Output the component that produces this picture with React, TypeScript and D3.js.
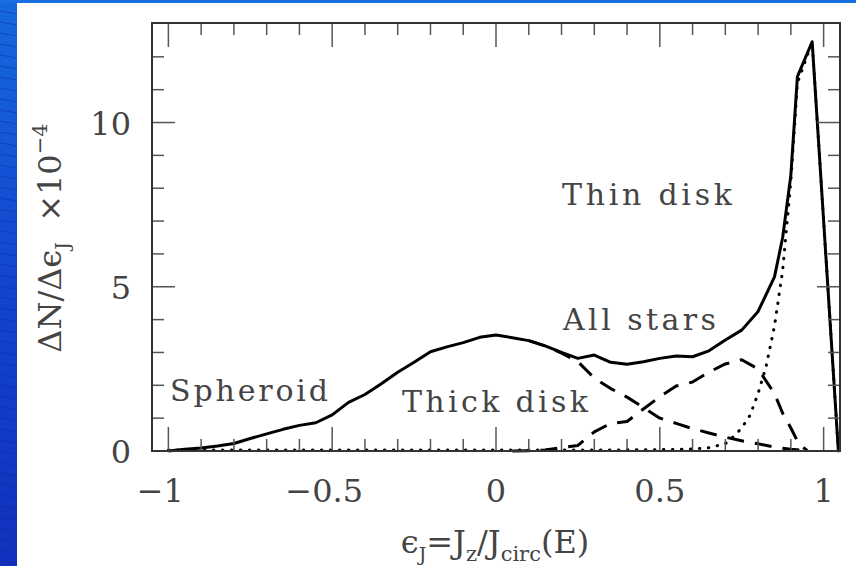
import React from "react";
import * as d3 from "d3";

// ---- data ----
const allX = [-1.0, -0.95, -0.9, -0.85, -0.8, -0.75, -0.7, -0.65, -0.6, -0.55, -0.5, -0.45, -0.4, -0.35, -0.3, -0.25, -0.2, -0.15, -0.1, -0.05, 0, 0.05, 0.1, 0.15, 0.2, 0.25, 0.3, 0.35, 0.4, 0.45, 0.5, 0.55, 0.6, 0.65, 0.7, 0.75, 0.8, 0.85, 0.875, 0.9, 0.92, 0.965, 1.045];
const allY = [0.0, 0.05, 0.09, 0.15, 0.23, 0.38, 0.52, 0.66, 0.78, 0.86, 1.1, 1.48, 1.72, 2.05, 2.4, 2.7, 3.02, 3.17, 3.3, 3.46, 3.53, 3.45, 3.36, 3.2, 3.0, 2.82, 2.92, 2.7, 2.64, 2.72, 2.82, 2.89, 2.87, 3.05, 3.38, 3.68, 4.25, 5.3, 6.5, 8.4, 11.4, 12.46, 0];

const thinX = [-1.0, -0.5, 0, 0.3, 0.5, 0.6, 0.65, 0.7, 0.725, 0.75, 0.775, 0.8, 0.825, 0.85, 0.875, 0.9, 0.92, 0.965, 1.045];
const thinY = [0.03, 0.03, 0.03, 0.03, 0.04, 0.06, 0.1, 0.22, 0.44, 0.7, 1.08, 1.75, 2.6, 3.8, 5.5, 8.2, 11.2, 12.46, 0];

const thickX = [0.1, 0.15, 0.2, 0.25, 0.3, 0.35, 0.4, 0.45, 0.5, 0.55, 0.6, 0.65, 0.7, 0.75, 0.8, 0.85, 0.9, 0.95];
const thickY = [3.36, 3.2, 2.98, 2.72, 2.22, 1.9, 1.64, 1.32, 1.0, 0.84, 0.68, 0.55, 0.42, 0.31, 0.22, 0.12, 0.05, 0.01];

const riseX = [0.05, 0.1, 0.15, 0.2, 0.25, 0.3, 0.35, 0.4, 0.45, 0.5, 0.55, 0.6, 0.65, 0.7, 0.75, 0.8, 0.85, 0.875, 0.9, 0.925, 0.95];
const riseY = [0, 0.01, 0.03, 0.1, 0.17, 0.58, 0.84, 0.9, 1.28, 1.65, 1.98, 2.1, 2.4, 2.65, 2.78, 2.5, 1.75, 1.15, 0.7, 0.2, 0.02];

const xMajorTicks = [-1, -0.5, 0, 0.5, 1];
const xTickLabels = ["\u22121", "\u22120.5", "0", "0.5", "1"];
const yMajorTicks = [0, 5, 10];
const yTickLabels = ["0", "5", "10"];

const W = 856;
const H = 566;
const L = 152, R = 840, T = 23, B = 451;
const FONT = "'DejaVu Serif', serif";
const TEXT = "#444";

export default function App() {
  const x = d3.scaleLinear().domain([-1.05, 1.05]).range([L, R]);
  const y = d3.scaleLinear().domain([0, 13.03]).range([B, T]);
  const line = d3
    .line<[number, number]>()
    .x((d) => x(d[0]))
    .y((d) => y(d[1]));
  const zip = (xs: number[], ys: number[]) => xs.map((v, i) => [v, ys[i]] as [number, number]);

  const xMinor = d3.range(-10, 11).map((i) => i / 10).filter((v) => Math.abs(v * 2 - Math.round(v * 2)) > 1e-6);
  const yMinor = d3.range(1, 13).filter((v) => v % 5 !== 0);

  const tickColor = "#555";
  const ticks: React.ReactNode[] = [];
  xMajorTicks.forEach((v, i) => {
    ticks.push(<line key={"xb" + i} x1={x(v)} x2={x(v)} y1={B} y2={B - 24} stroke={tickColor} strokeWidth={1.5} />);
    ticks.push(<line key={"xt" + i} x1={x(v)} x2={x(v)} y1={T} y2={T + 24} stroke={tickColor} strokeWidth={1.5} />);
  });
  xMinor.forEach((v, i) => {
    ticks.push(<line key={"xbm" + i} x1={x(v)} x2={x(v)} y1={B} y2={B - 12} stroke={tickColor} strokeWidth={1.5} />);
    ticks.push(<line key={"xtm" + i} x1={x(v)} x2={x(v)} y1={T} y2={T + 12} stroke={tickColor} strokeWidth={1.5} />);
  });
  yMajorTicks.forEach((v, i) => {
    ticks.push(<line key={"yl" + i} x1={L} x2={L + 23} y1={y(v)} y2={y(v)} stroke={tickColor} strokeWidth={1.5} />);
    ticks.push(<line key={"yr" + i} x1={R} x2={R - 23} y1={y(v)} y2={y(v)} stroke={tickColor} strokeWidth={1.5} />);
  });
  yMinor.forEach((v, i) => {
    ticks.push(<line key={"ylm" + i} x1={L} x2={L + 12} y1={y(v)} y2={y(v)} stroke={tickColor} strokeWidth={1.5} />);
    ticks.push(<line key={"yrm" + i} x1={R} x2={R - 12} y1={y(v)} y2={y(v)} stroke={tickColor} strokeWidth={1.5} />);
  });

  // background stripes on the blue strips
  const stripes = d3.range(-2, 60).map((i) => i * 11);

  return (
    <div style={{ position: "absolute", left: 0, top: 0 }}>
      <svg width={W} height={H} style={{ display: "block" }}>
        <defs>
          <linearGradient id="blueGrad" x1="0" y1="0" x2="0" y2="1">
            <stop offset="0" stopColor="#1668de" />
            <stop offset="0.5" stopColor="#1245cf" />
            <stop offset="1" stopColor="#1130bd" />
          </linearGradient>
          <clipPath id="leftStrip">
            <rect x={0} y={0} width={17} height={H} />
          </clipPath>
        </defs>
        <rect x={0} y={0} width={W} height={H} fill="url(#blueGrad)" />
        <g clipPath="url(#leftStrip)">
          {stripes.map((s, i) => (
            <line key={i} x1={0} y1={s} x2={17} y2={s + 3} stroke="#0b2a96" strokeOpacity={0.55} strokeWidth={0.8} />
          ))}
        </g>
        <rect x={0} y={0} width={W} height={3} fill="#1a6ee2" />
        <rect x={17} y={3} width={W - 17} height={H - 3} fill="#ffffff" />

        {/* curves */}
        <g fill="none" stroke="#000" strokeLinejoin="round">
          <path d={line(zip(thinX, thinY)) || ""} strokeWidth={3} strokeDasharray="0.5 8.5" strokeLinecap="round" />
          <path d={line(zip(riseX, riseY)) || ""} strokeWidth={3} strokeDasharray="17 11" />
          <path d={line(zip(thickX, thickY)) || ""} strokeWidth={3} strokeDasharray="17 11" />
          <path d={line(zip(allX, allY)) || ""} strokeWidth={3} />
        </g>

        {/* ticks + frame */}
        {ticks}
        <rect x={L} y={T} width={R - L} height={B - T} fill="none" stroke="#333" strokeWidth={2} />

        {/* tick labels */}
        <g fontFamily={FONT} fontSize={32} fill={TEXT}>
          {xMajorTicks.map((v, i) => (
            <text key={i} x={x(v) - (v < 0 ? 8 : 0)} y={502} textAnchor="middle">
              {xTickLabels[i]}
            </text>
          ))}
          {yMajorTicks.map((v, i) => (
            <text key={i} x={131} y={y(v) + 12} textAnchor="end">
              {yTickLabels[i]}
            </text>
          ))}
        </g>

        {/* annotations */}
        <g fontFamily={FONT} fontSize={30} fill={TEXT}>
          <text x={562} y={205} textLength={170} lengthAdjust="spacing">Thin disk</text>
          <text x={563} y={330} textLength={153} lengthAdjust="spacing">All stars</text>
          <text x={170} y={401} textLength={158} lengthAdjust="spacing">Spheroid</text>
          <text x={402} y={412} textLength={186} lengthAdjust="spacing">Thick disk</text>
        </g>

        {/* x-axis title */}
        <text x={495} y={553} textAnchor="middle" fontFamily={FONT} fontSize={32} fill={TEXT}>
          <tspan>{"\u03f5"}</tspan>
          <tspan fontSize={19} dy={8}>J</tspan>
          <tspan dy={-8}>=J</tspan>
          <tspan fontSize={21} dy={8}>z</tspan>
          <tspan dy={-8}>/J</tspan>
          <tspan fontSize={21} dy={8}>circ</tspan>
          <tspan dy={-8}>(E)</tspan>
        </text>

        {/* y-axis title */}
        <text transform="translate(61,238) rotate(-90)" textAnchor="middle" fontFamily={FONT} fontSize={32} fill={TEXT}>
          <tspan>{"\u0394N/\u0394\u03f5"}</tspan>
          <tspan fontSize={19} dy={8}>J</tspan>
          <tspan dy={-8}>{"\u00a0\u00a0\u00d710"}</tspan>
          <tspan fontSize={21} dy={-14}>{"\u22124"}</tspan>
        </text>
      </svg>
    </div>
  );
}
